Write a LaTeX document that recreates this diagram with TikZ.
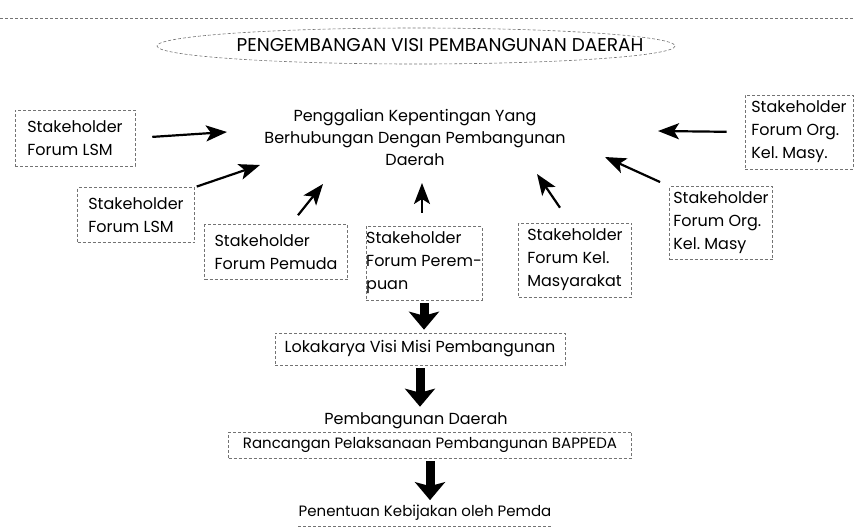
\documentclass[tikz,border=0pt]{standalone}
\usepackage{fontspec}
\setmainfont{Poppins}
\usepackage{tikz}
\usetikzlibrary{arrows.meta, positioning}

\begin{document}
\begin{tikzpicture}[x=1pt, y=-1pt,
    txt/.style={font=\fontsize{16}{23}\selectfont, inner sep=0pt},
    dashes/.style={draw=black!55, line width=0.6pt, dash pattern=on 3pt off 2pt},
    stake/.style={txt, dashes, align=left},
    pointer/.style={line width=2.2pt, -{Stealth[length=21pt, width=16pt, inset=5pt]}},
    bigdown/.style={line width=9pt, -{Stealth[length=18pt, width=30pt, inset=4pt]}}]
    \useasboundingbox (0,0) rectangle (854,528);
    % Page edge
    \draw[dashes] (0,18) -- (854,18);
    % Title
    \draw[dashes] (416,46) ellipse [x radius=259, y radius=18];
    \node[txt, font=\fontsize{18.5}{22}\selectfont] (judul) at (440,45) {PENGEMBANGAN VISI PEMBANGUNAN DAERAH};
    % Centre
    \node[txt, align=center, font=\fontsize{16}{22}\selectfont] (gali) at (415,137)
        {Penggalian Kepentingan Yang\\Berhubungan Dengan Pembangunan\\Daerah};
    % Stakeholder boxes
    \node[stake, minimum width=120pt, minimum height=56pt] (lsmA) at (75,138) {Stakeholder\\Forum LSM};
    \node[stake, minimum width=117pt, minimum height=55pt] (lsmB) at (136,215) {Stakeholder\\Forum LSM};
    \node[stake, minimum width=143pt, minimum height=55pt] (pemuda) at (276,252) {Stakeholder\\Forum Pemuda};
    \node[stake, minimum width=113pt, minimum height=74pt] (perempuan) at (424,263) {Stakeholder\\Forum Perem-\\puan};
    \node[stake, minimum width=113pt, minimum height=74pt] (masy) at (575,260) {Stakeholder\\Forum Kel.\\Masyarakat};
    \node[stake, minimum width=103pt, minimum height=73pt] (orgB) at (721,223) {Stakeholder\\Forum Org.\\Kel.\ Masy};
    \node[stake, minimum width=108pt, minimum height=74pt] (orgA) at (799,132) {Stakeholder\\Forum Org.\\Kel.\ Masy.};
    % Arrow tips
    \coordinate (tipA) at (227,132);
    \coordinate (tipB) at (260,165);
    \coordinate (tipC) at (323,184);
    \coordinate (tipD) at (422,183);
    \coordinate (tipE) at (537,174);
    \coordinate (tipF) at (658,131);
    \coordinate (tipG) at (605,157);
    \draw[pointer, shorten <=17pt] (lsmA.east) -- (tipA);
    \draw[pointer, shorten <=2pt] (lsmB.north east) -- (tipB);
    \draw[pointer] ([xshift=22pt, yshift=9pt]pemuda.north) -- (tipC);
    \draw[pointer] ([xshift=-2pt, yshift=13pt]perempuan.north) -- (tipD);
    \draw[pointer] ([xshift=-15pt, yshift=15pt]masy.north) -- (tipE);
    \draw[pointer, shorten <=18pt] (orgA.west) -- (tipF);
    \draw[pointer, shorten <=10pt] (orgB.north west) -- (tipG);
    % Flow
    \node[txt, dashes, minimum width=290pt, minimum height=32pt] (loka) at (420,349) {Lokakarya Visi Misi Pembangunan};
    \node[txt] (daerah) at (416,421) {Pembangunan Daerah};
    \node[txt, dashes, font=\fontsize{15}{22}\selectfont, minimum width=403pt, minimum height=26pt] (rancangan) at (430,445) {Rancangan Pelaksanaan Pembangunan BAPPEDA};
    \node[txt, font=\fontsize{15}{22}\selectfont] (penentuan) at (425,513) {Penentuan Kebijakan oleh Pemda};
    \draw[dashes] ([yshift=-5pt]penentuan.south west) -- ([yshift=-5pt]penentuan.south east);
    \draw[bigdown] ([yshift=-3pt]perempuan.south) -- ([yshift=3pt]perempuan.south |- loka.north);
    \draw[bigdown] ([yshift=-3pt]loka.south) -- ([yshift=6pt]loka.south |- daerah.north);
    \draw[bigdown] ([yshift=-3pt]rancangan.south) -- ([yshift=5pt]rancangan.south |- penentuan.north);
\end{tikzpicture}
\end{document}
